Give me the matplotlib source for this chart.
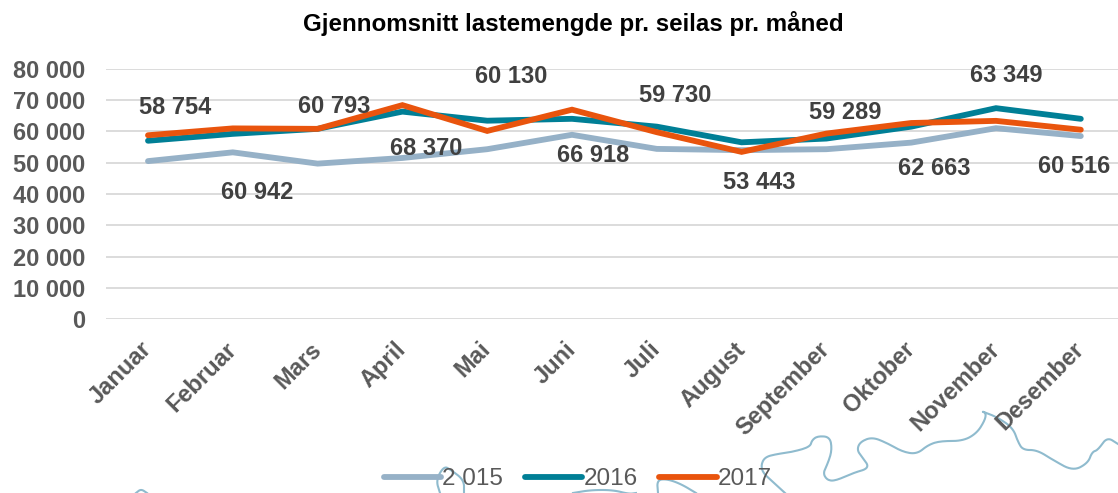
import matplotlib
matplotlib.use("Agg")
import matplotlib.pyplot as plt
from matplotlib.lines import Line2D
import numpy as np

plt.rcParams['font.family'] = ['Liberation Sans', 'DejaVu Sans']

months = ['Januar', 'Februar', 'Mars', 'April', 'Mai', 'Juni', 'Juli', 'August',
          'September', 'Oktober', 'November', 'Desember']
y2015 = [50500, 53300, 49700, 51500, 54300, 58900, 54400, 54000, 54300, 56400, 61000, 58500]
y2016 = [57000, 59200, 60800, 66300, 63400, 64000, 61500, 56500, 57700, 61500, 67400, 64000]
y2017 = [58754, 60942, 60793, 68370, 60130, 66918, 59730, 53443, 59289, 62663, 63349, 60516]
yticks = [0, 10000, 20000, 30000, 40000, 50000, 60000, 70000, 80000]

# label shift from the 2017 point, in pixels
label_dx = [27, 24, 17, 24, 24, 21, 18, 18, 19, 23, 10, -7]
label_dy = [28, -64, 22, -43, 54, -46, 37, -31, 21, -45, 45, -37]

# river outline behind the legend (decoration, in image pixels)
river_main = [(785, 493), (773, 482), (763, 473), (761, 465), (765, 457), (777, 454), (792, 452), (810, 447),
              (812, 440), (818, 436), (830, 437), (832, 450), (828, 463), (823, 473), (827, 480), (835, 481),
              (853, 473), (870, 468), (862, 457), (857, 450), (860, 442), (872, 437), (887, 443), (903, 452),
              (917, 454), (928, 445), (940, 441), (963, 441), (977, 433), (985, 420), (986, 413), (981, 411),
              (997, 417), (1013, 428), (1018, 442), (1023, 450), (1037, 450), (1053, 460), (1073, 471),
              (1088, 463), (1092, 452), (1098, 450), (1107, 437), (1118, 444)]
river_a = [(440, 493), (436, 480), (444, 466), (451, 470), (464, 480), (464, 493)]
river_b = [(573, 493), (591, 490), (613, 490), (629, 494), (636, 493)]
river_c = [(658, 493), (657, 480), (667, 479), (681, 484), (696, 493)]
river_d = [(136, 493), (141, 489), (147, 493)]

W, H = 1118, 493


def smooth(pts, n=3):
    pts = np.array(pts, dtype=float)
    for _ in range(n):
        a = pts[:-1] * 0.75 + pts[1:] * 0.25
        b = pts[:-1] * 0.25 + pts[1:] * 0.75
        mid = np.empty((len(a) * 2, 2))
        mid[0::2] = a
        mid[1::2] = b
        pts = np.vstack([pts[:1], mid, pts[-1:]])
    return pts


fig = plt.figure(figsize=(W/100, H/100), dpi=100)
ax = fig.add_axes([106/W, 1-319.3/H, (W-106)/W, (319.3-68.7)/H])

for r in [river_main, river_a, river_b, river_c, river_d]:
    p = smooth(r)
    fig.add_artist(Line2D(p[:, 0]/W, 1-p[:, 1]/H, color='#8FBBCE', lw=1.5, zorder=-1))

x = np.arange(len(months))
style = dict(lw=4.2, solid_capstyle='round', solid_joinstyle='miter')
line15, = ax.plot(x, y2015, color='#96B1C7', **style)
line16, = ax.plot(x, y2016, color='#007F96', **style)
line17, = ax.plot(x, y2017, color='#E9540D', **style)

ax.set_ylim(0, 80000)
ax.set_xlim(-(148-106)/84.8, (W-148)/84.8)
ax.set_yticks(yticks)
ax.set_yticklabels([f"{v:,}".replace(',', ' ') for v in yticks], fontsize=17, fontweight='bold', color='#595959')
ax.set_xticks(x)
ax.set_xticklabels(months, rotation=45, ha='right', va='center', rotation_mode='anchor', fontsize=17,
                   fontweight='bold', color='#595959')
ax.tick_params(length=0, axis='both')
ax.tick_params(axis='y', pad=15)
ax.tick_params(axis='x', pad=19)
ax.grid(axis='y', color='#D9D9D9', lw=1.3)
ax.set_axisbelow(True)
ax.patch.set_alpha(0)
for s in ax.spines.values():
    s.set_visible(False)

for i, v in enumerate(y2017):
    ax.annotate(f"{v:,}".replace(',', ' '), (i, v), xytext=(label_dx[i]*0.72, label_dy[i]*0.72),
                textcoords='offset points', ha='center', va='center', fontsize=17, fontweight='bold',
                color='#404040')

fig.text(573.5/W, 1-24/H, 'Gjennomsnitt lastemengde pr. seilas pr. måned', ha='center', va='center',
         fontsize=17.4, fontweight='bold', color='black')

fig.legend([line15, line16, line17], ['2 015', '2016', '2017'], loc='center', bbox_to_anchor=(578/W, 1-479/H),
           ncol=3, frameon=False, fontsize=17.5, labelcolor='#595959', handlelength=2.35, handletextpad=0.05,
           columnspacing=0.9)

plt.savefig("out.png", dpi=100)
